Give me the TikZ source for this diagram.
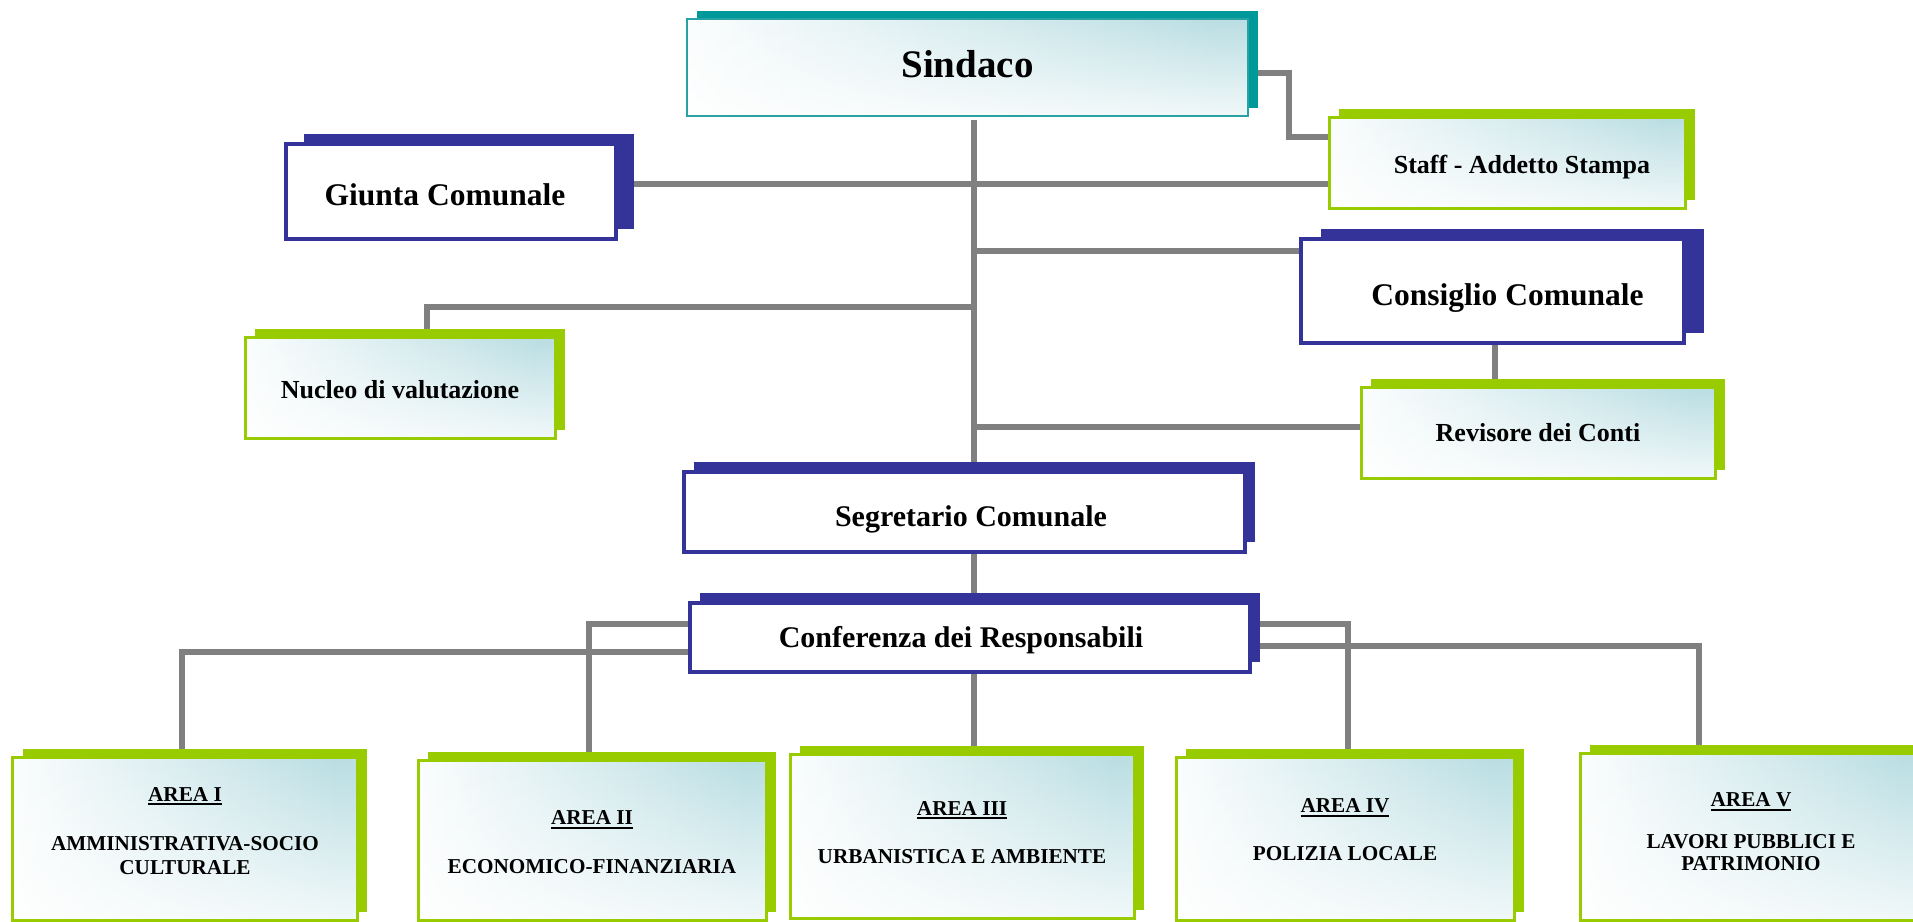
\documentclass[tikz,border=0pt]{standalone}
\usepackage{fontspec}
\setmainfont{Liberation Serif}
\usetikzlibrary{shadows,backgrounds,fadings}
\definecolor{lineg}{RGB}{128,128,128}
\definecolor{tealsh}{RGB}{0,153,153}
\definecolor{tealb}{RGB}{40,162,162}
\definecolor{bluec}{RGB}{51,51,153}
\definecolor{greenc}{RGB}{153,204,0}
\definecolor{gradc}{RGB}{186,222,227}
\pgfdeclarehorizontalshading{boxgrad}{100bp}{color(0bp)=(white); color(22bp)=(white); color(72bp)=(gradc); color(100bp)=(gradc)}
\tikzfading[name=boxfade, top color=transparent!100, middle color=transparent!100, bottom color=transparent!20]
\newcommand\fsz[1]{\fontsize{#1bp}{#1bp}\selectfont\bfseries}
\newcommand\undl[1]{\leavevmode\vtop{\hbox{#1}\kern2bp\hrule height 1.8bp}}
\newcommand\bline[2]{\raisebox{-#1bp}[0pt][0pt]{#2}}
\tikzset{
  box/.style={rectangle, inner sep=0pt, align=center, text=black},
  gradfill/.style={shade, shading=boxgrad,
    path picture={\fill[white, path fading=boxfade] (path picture bounding box.south west) rectangle (path picture bounding box.north east);}},
  tealbox/.style={box, gradfill, draw=tealb, line width=2.5bp,
    general shadow={fill=tealsh, shadow xshift=10bp, shadow yshift=8bp}},
  greenbox/.style={box, gradfill, draw=greenc, line width=3bp,
    general shadow={fill=greenc, shadow xshift=10bp, shadow yshift=8bp}},
  bluebox/.style={box, fill=white, draw=bluec, line width=3.5bp,
    general shadow={fill=bluec, shadow xshift=#1, shadow yshift=10bp}},
  bluebox/.default=12bp,
  areabox/.style={greenbox, font=\fontsize{21.2bp}{24.5bp}\selectfont\bfseries},
  conn/.style={draw=lineg, line width=6.5bp, line join=miter}
}
\begin{document}
\begin{tikzpicture}[x=1bp, y=-1bp]
\useasboundingbox (0,0) rectangle (1913,922);

% top part
\node[tealbox, minimum width=561bp, minimum height=97bp, font=\fsz{39}] (sind) at (967.5,67.5) {\bline{10}{Sindaco}};
\node[greenbox, minimum width=356bp, minimum height=91bp, font=\fsz{26}] (staff) at (1507,162.5) {\hspace*{30bp}\bline{11.2}{Staff - Addetto Stampa}};
\node[bluebox=18bp, minimum width=330bp, minimum height=95bp, font=\fsz{31.5}] (giunta) at (451,191.5) {\hspace*{-12bp}\bline{14.4}{Giunta Comunale}};
\node[bluebox=20bp, minimum width=383bp, minimum height=104bp, font=\fsz{31.5}] (cons) at (1492.5,291) {\hspace*{30bp}\bline{14.8}{Consiglio Comunale}};
\node[greenbox, minimum width=310bp, minimum height=101bp, font=\fsz{26}] (nuc) at (400,387.5) {\bline{11.2}{Nucleo di valutazione}};
\node[greenbox, minimum width=354bp, minimum height=91bp, font=\fsz{26}] (rev) at (1538,432.5) {\bline{8.9}{Revisore dei Conti}};
\node[bluebox=10bp, minimum width=561bp, minimum height=80bp, font=\fsz{30}] (seg) at (964.5,512) {\hspace*{13bp}\bline{14.4}{Segretario Comunale}};
\node[bluebox=10bp, minimum width=560bp, minimum height=69bp, font=\fsz{30}] (conf) at (970,637.5) {\hspace*{-18bp}\bline{9.7}{Conferenza dei Responsabili}};

% areas
\node[areabox, minimum width=344bp, minimum height=163bp] (a1) at (185,838.5)
  {\parbox{336bp}{\centering\undl{AREA I}\\[24.5bp]AMMINISTRATIVA-SOCIO\\CULTURALE\par\vspace*{14.6bp}}};
\node[areabox, minimum width=348bp, minimum height=160bp] (a2) at (592,840)
  {\parbox{336bp}{\vspace*{4.8bp}\centering\undl{AREA II}\\[24.5bp]ECONOMICO-FINANZIARIA}};
\node[areabox, minimum width=344bp, minimum height=164bp] (a3) at (962,836)
  {\parbox{336bp}{\centering\undl{AREA III}\\[23.5bp]URBANISTICA E AMBIENTE\par\vspace*{7.4bp}}};
\node[areabox, minimum width=338bp, minimum height=163bp] (a4) at (1345,838.5)
  {\parbox{330bp}{\centering\undl{AREA IV}\\[23.5bp]POLIZIA LOCALE\par\vspace*{17bp}}};
\node[areabox, minimum width=342bp, minimum height=167bp] (a5) at (1751,836.5)
  {\parbox{336bp}{\centering\fontsize{21.2bp}{22bp}\selectfont\undl{AREA V}\\[20bp]LAVORI PUBBLICI E\\PATRIMONIO\par\vspace*{9.8bp}}};

\begin{scope}[on background layer]
\coordinate (tx) at (974,0);
\coordinate (sA) at (1289,73);
\coordinate (sB) at (1289,137);
\coordinate (gy) at (0,184);
\coordinate (cy) at (0,251);
\coordinate (nA) at (427,307);
\coordinate (ry) at (0,427);
\coordinate (crx) at (1495,0);
\coordinate (b2) at (589,624);
\coordinate (b1) at (182,652);
\coordinate (b4) at (1348,624);
\coordinate (b5) at (1699,646);
\draw[conn] (sind.east |- sA) -- (sA) -- (sB) -- (staff.west |- sB);
\draw[conn] ([yshift=-3bp]sind.south -| tx) -- (seg.north -| tx);
\draw[conn] (seg.south -| tx) -- (conf.north -| tx);
\draw[conn] (conf.south -| tx) -- (a3.north -| tx);
\draw[conn] (giunta.east |- gy) -- (staff.west |- gy);
\draw[conn] (tx |- cy) -- (cons.west |- cy);
\draw[conn] (tx |- nA) -- (nA) -- (nuc.north -| nA);
\draw[conn] (tx |- ry) -- (rev.west |- ry);
\draw[conn] (cons.south -| crx) -- (rev.north -| crx);
\draw[conn] (conf.west |- b2) -- (b2) -- (a2.north -| b2);
\draw[conn] (conf.west |- b1) -- (b1) -- (a1.north -| b1);
\draw[conn] (conf.east |- b4) -- (b4) -- (a4.north -| b4);
\draw[conn] (conf.east |- b5) -- (b5) -- (a5.north -| b5);
\end{scope}
\end{tikzpicture}
\end{document}
